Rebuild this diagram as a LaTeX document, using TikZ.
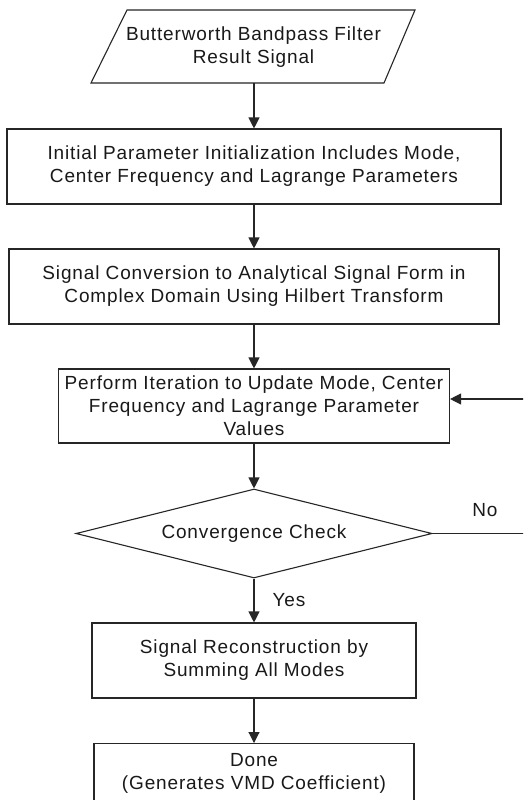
\documentclass[tikz,border=0pt]{standalone}
\usepackage{fontspec}
\setmainfont[LetterSpace=4.5]{Liberation Sans}
\usetikzlibrary{shapes.geometric,arrows.meta,calc}
\begin{document}
\begin{tikzpicture}[x=1pt,y=-1pt,
  every node/.style={font=\fontsize{19}{23}\selectfont, text=black!90},
  procbox/.style={draw=black!85, line width=1.1pt, rectangle, align=center, inner sep=0pt, minimum height=75pt},
  decision/.style={draw=black!85, line width=1.1pt, diamond, aspect=4, inner sep=0pt, minimum width=356pt, minimum height=89pt},
  conn/.style={draw=black!85, line width=1.1pt, -{Triangle[width=11pt,length=11pt]}},
  lbl/.style={inner sep=0pt}]
\clip (0,0) rectangle (523,800);
\fill[white] (0,0) rectangle (523,800);

% input parallelogram
\node[align=center, inner sep=0pt] (in) at (253.5,47.5) {Butterworth Bandpass Filter\\Result Signal};
\draw[black!85, line width=1.1pt] (91,83) coordinate (p1) -- (384,83) coordinate (p2)
  -- (415,10) coordinate (p3) -- (127,10) coordinate (p4) -- cycle;
\coordinate (inb) at (254,83);

\node[procbox, minimum width=494pt] (b2) at (254,166.5) {Initial Parameter Initialization Includes Mode,\\Center Frequency and Lagrange Parameters};
\node[procbox, minimum width=490pt] (b3) at (254,286.5) {Signal Conversion to Analytical Signal Form in\\Complex Domain Using Hilbert Transform};
\node[procbox, minimum width=391pt, minimum height=74pt] (b4) at (254,406) {Perform Iteration to Update Mode, Center\\Frequency and Lagrange Parameter\\Values};
\node[decision] (dc) at (254,533.5) {Convergence Check};
\node[procbox, minimum width=324pt] (b5) at (254,660.5) {Signal Reconstruction by\\Summing All Modes};
\node[procbox, minimum width=320pt, minimum height=60pt, anchor=north] (b6) at (254,743) {Done\\(Generates VMD Coefficient)};

\draw[conn] (inb) -- (b2.north);
\draw[conn] (b2.south) -- (b3.north);
\draw[conn] (b3.south) -- (b4.north);
\draw[conn] (b4.south) -- (dc.north);
\draw[conn] (dc.south) -- (b5.north);
\draw[conn] (b5.south) -- (b6.north);

\coordinate (r1) at (530,533.5);
\coordinate (r2) at (530,399);
\coordinate (r3) at (b4.east |- r2);
\draw[conn] (dc.east) -- (r1) -- (r2) -- (r3);

\node[lbl] (no) at (485,510) {No};
\node[lbl] (yes) at (289,600) {Yes};
\end{tikzpicture}
\end{document}
